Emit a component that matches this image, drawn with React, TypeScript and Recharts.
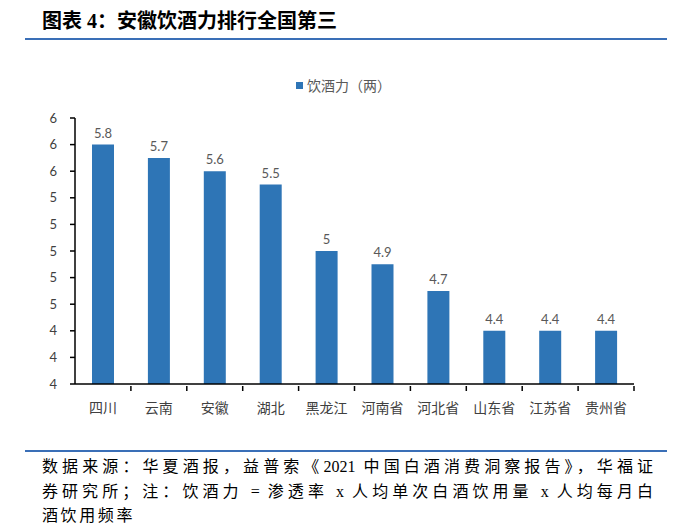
import React from "react";
import { BarChart, Bar, XAxis, YAxis, LabelList, Legend } from "recharts";

const provinces = ["四川", "云南", "安徽", "湖北", "黑龙江", "河南省", "河北省", "山东省", "江苏省", "贵州省"];
const drinkPower = [5.8, 5.7, 5.6, 5.5, 5.0, 4.9, 4.7, 4.4, 4.4, 4.4];
const yTicks = [4, 4.2, 4.4, 4.6, 4.8, 5, 5.2, 5.4, 5.6, 5.8, 6];
const seriesName = "饮酒力（两）";
const titleText = "图表 4：安徽饮酒力排行全国第三";
const noteLines = [
  "数据来源：华夏酒报，益普索《2021 中国白酒消费洞察报告》，华福证",
  "券研究所；注：饮酒力 = 渗透率 x 人均单次白酒饮用量 x 人均每月白",
  "酒饮用频率",
];

const data = provinces.map((p, i) => ({ name: p, value: drinkPower[i] }));

const W = 683;
const H = 525;
const PLOT_LEFT = 75;
const PLOT_RIGHT = 634;
const PLOT_TOP = 118;
const PLOT_BOTTOM = 384;
const BAND = (PLOT_RIGHT - PLOT_LEFT) / provinces.length;

const chartFont = 'Lato, "Noto Sans CJK SC", sans-serif';
const serifFont = '"Liberation Serif", "Noto Sans CJK SC", serif';

const XTick = (props: any) => {
  const { x, y, payload, index } = props;
  const last = index === provinces.length - 1;
  return (
    <g>
      {index > 0 && (
        <line x1={x - BAND / 2} x2={x - BAND / 2} y1={y} y2={y + 5} stroke="#000" strokeWidth={1.5} />
      )}
      {last && (
        <line x1={x + BAND / 2} x2={x + BAND / 2} y1={y} y2={y + 5} stroke="#000" strokeWidth={1.5} />
      )}
      <text x={x} y={y + 27} textAnchor="middle" fill="#404040" fontSize={14} fontFamily={chartFont}>
        {payload.value}
      </text>
    </g>
  );
};

const LegendContent = () => (
  <div style={{ display: "flex", alignItems: "center", fontFamily: chartFont, fontSize: 14, color: "#595959", whiteSpace: "nowrap" }}>
    <span style={{ display: "inline-block", width: 7, height: 7, background: "#2E75B6", marginRight: 4 }} />
    <span>{seriesName}</span>
  </div>
);

export default function App() {
  return (
    <div style={{ position: "absolute", left: 0, top: 0, width: W, height: H, background: "#fff" }}>
      <div
        style={{
          position: "absolute",
          left: 42,
          top: 8,
          fontFamily: serifFont,
          fontWeight: 700,
          fontSize: 20,
          lineHeight: "26px",
          color: "#000",
          whiteSpace: "nowrap",
        }}
      >
        {titleText}
      </div>
      <div style={{ position: "absolute", left: 25, top: 38, width: 642, height: 2, background: "#3A6FB7" }} />
      <div style={{ position: "absolute", left: 0, top: 0 }}>
        <BarChart
          width={W}
          height={H}
          data={data}
          margin={{ top: PLOT_TOP, right: W - PLOT_RIGHT, bottom: H - PLOT_BOTTOM - 40, left: 0 }}
          barCategoryGap={0}
        >
          <Legend
            layout="vertical"
            align="center"
            verticalAlign="middle"
            content={<LegendContent />}
            wrapperStyle={{ position: "absolute", top: 75, left: 296, width: "auto", height: "auto" }}
          />
          <XAxis
            dataKey="name"
            height={40}
            interval={0}
            tickSize={0}
            tickLine={false}
            axisLine={{ stroke: "#000", strokeWidth: 1.5 }}
            tick={<XTick />}
          />
          <YAxis
            width={PLOT_LEFT}
            domain={[4, 6]}
            ticks={yTicks}
            interval={0}
            tickFormatter={(v: number) => String(Math.round(v))}
            tickSize={5}
            tickMargin={13}
            axisLine={{ stroke: "#000", strokeWidth: 1.5 }}
            tickLine={{ stroke: "#000", strokeWidth: 1.5 }}
            tick={{ fill: "#404040", fontSize: 13, fontFamily: chartFont }}
          />
          <Bar dataKey="value" name={seriesName} fill="#2E75B6" barSize={22} isAnimationActive={false}>
            <LabelList dataKey="value" position="top" offset={7} fill="#595959" fontSize={13} fontFamily={chartFont} />
          </Bar>
        </BarChart>
      </div>
      <div style={{ position: "absolute", left: 25, top: 450, width: 642, height: 2, background: "#3A6FB7" }} />
      <div
        style={{
          position: "absolute",
          left: 42,
          top: 455,
          width: 611,
          fontFamily: serifFont,
          fontSize: 16,
          lineHeight: "24.5px",
          color: "#000",
        }}
      >
        <div style={{ textAlign: "justify", textAlignLast: "justify", whiteSpace: "nowrap" }}>{noteLines[0]}</div>
        <div style={{ textAlign: "justify", textAlignLast: "justify", whiteSpace: "nowrap" }}>{noteLines[1]}</div>
        <div style={{ letterSpacing: 2.6 }}>{noteLines[2]}</div>
      </div>
    </div>
  );
}
